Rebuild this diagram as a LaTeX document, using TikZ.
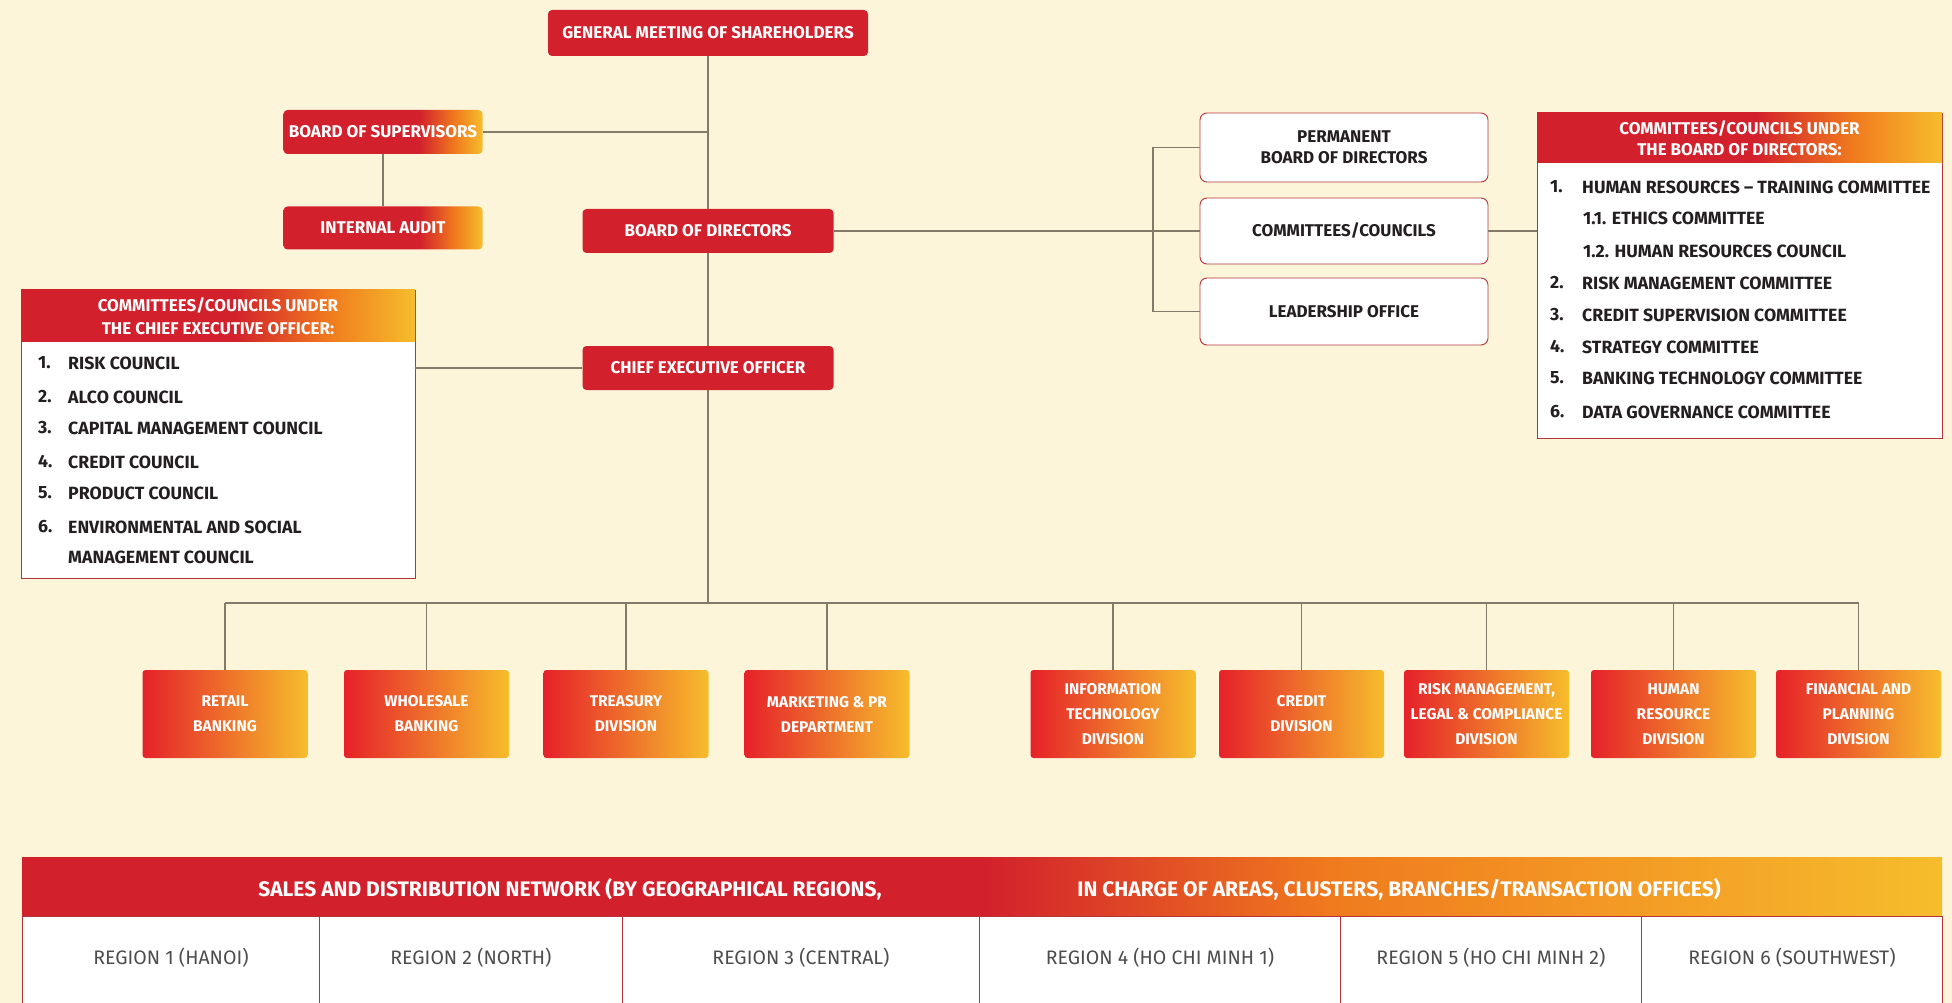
\documentclass[tikz,border=0pt]{standalone}
\usepackage{fontspec}
\setmainfont{Fira Sans}
\usetikzlibrary{calc}
\definecolor{redc}{HTML}{D2202C}
\definecolor{divred}{HTML}{E6212A}
\definecolor{orc}{HTML}{F07A1E}
\definecolor{yelc}{HTML}{F6BD2C}
\definecolor{bgc}{HTML}{FDF5DA}
\definecolor{linec}{HTML}{857A6A}
\definecolor{txtc}{HTML}{231F20}
\definecolor{greyt}{HTML}{4D4D4D}
\definecolor{bordc}{HTML}{B5343A}
\pgfdeclarehorizontalshading{bosgrad}{100bp}{color(0bp)=(redc); color(59bp)=(redc); color(68bp)=(orc); color(75bp)=(yelc); color(100bp)=(yelc)}
\pgfdeclarehorizontalshading{hdrgrad}{100bp}{color(0bp)=(redc); color(52bp)=(redc); color(64bp)=(orc); color(75bp)=(yelc); color(100bp)=(yelc)}
\pgfdeclarehorizontalshading{salesgrad}{100bp}{color(0bp)=(redc); color(50bp)=(redc); color(59bp)=(orc); color(75bp)=(yelc); color(100bp)=(yelc)}
\tikzset{
  base/.style={font=\fontsize{17}{21}\selectfont\bfseries, align=center, inner sep=0pt},
  redbox/.style={base, fill=redc, text=white, rounded corners=4pt, minimum height=44pt},
  gradbox/.style={base, shade, shading=bosgrad, text=white, rounded corners=4pt, minimum width=199pt, minimum height=44pt},
  whitebox/.style={base, fill=white, draw=bordc, line width=0.9pt, rounded corners=7pt, minimum width=288pt, text=txtc},
  divbox/.style={base, font=\fontsize{15.5}{25}\selectfont\bfseries, left color=divred, middle color=orc, right color=yelc, text=white, rounded corners=3pt, minimum width=165pt, minimum height=88pt},
  conn/.style={draw=linec, line width=1.5pt},
  item/.style={anchor=west, font=\fontsize{17.7}{20}\selectfont\bfseries, text=txtc, inner sep=0pt},
  listbox/.style={draw=bordc, line width=0.9pt, fill=white, inner sep=0pt},
  hdr/.style={base, shade, shading=hdrgrad, text=white, anchor=north},
  cell/.style={draw=bordc, line width=0.9pt, fill=white, inner sep=0pt, minimum height=87pt},
  regtxt/.style={font=\fontsize{19.5}{22}\selectfont, text=greyt, inner sep=0pt},
  saltxt/.style={font=\fontsize{21}{24}\selectfont\bfseries, text=white, inner sep=0pt},
}
\begin{document}
\begin{tikzpicture}[x=1pt,y=-1pt]
\useasboundingbox (0,0) rectangle (1952,1003);
\fill[bgc] (0,0) rectangle (1952,1003);

% top hierarchy
\node[redbox, minimum width=320pt, minimum height=46pt] (gms) at (708,33) {GENERAL MEETING OF SHAREHOLDERS};
\node[gradbox] (bos) at (383,132) {BOARD OF SUPERVISORS};
\node[gradbox, minimum height=43pt] (ia) at (383,228) {INTERNAL AUDIT};
\node[redbox, minimum width=251pt] (bod) at (708,231) {BOARD OF DIRECTORS};
\node[redbox, minimum width=251pt] (ceo) at (708,368) {CHIEF EXECUTIVE OFFICER};
\coordinate (bus) at (708,603);

% white boxes
\node[whitebox, minimum height=69pt] (perm) at (1344,147.5) {PERMANENT\\BOARD OF DIRECTORS};
\node[whitebox, minimum height=66pt] (comm) at (1344,231) {COMMITTEES/COUNCILS};
\node[whitebox, minimum height=67pt] (lead) at (1344,311.5) {LEADERSHIP OFFICE};
\coordinate (brk) at (1153,231);

% right list box
\node[listbox, minimum width=405pt, minimum height=325pt] (bodcom) at (1739.5,275.5) {};
\node[hdr, font=\fontsize{17}{21}\selectfont\bfseries, minimum width=405pt, minimum height=50pt] (bodhdr) at (bodcom.north) {COMMITTEES/COUNCILS UNDER\\THE BOARD OF DIRECTORS:};
\node[item] (rn1) at (1550,187) {1.};
\node[item] (rt1) at (1582,187) {HUMAN RESOURCES – TRAINING COMMITTEE};
\node[item] (rt11) at (1583,218) {1.1. ETHICS COMMITTEE};
\node[item] (rt12) at (1583,251) {1.2. HUMAN RESOURCES COUNCIL};
\node[item] (rn2) at (1550,283) {2.};
\node[item] (rt2) at (1582,283) {RISK MANAGEMENT COMMITTEE};
\node[item] (rn3) at (1550,315) {3.};
\node[item] (rt3) at (1582,315) {CREDIT SUPERVISION COMMITTEE};
\node[item] (rn4) at (1550,347) {4.};
\node[item] (rt4) at (1582,347) {STRATEGY COMMITTEE};
\node[item] (rn5) at (1550,378) {5.};
\node[item] (rt5) at (1582,378) {BANKING TECHNOLOGY COMMITTEE};
\node[item] (rn6) at (1550,412) {6.};
\node[item] (rt6) at (1582,412) {DATA GOVERNANCE COMMITTEE};

% left list box
\node[listbox, minimum width=394pt, minimum height=288pt] (ceocom) at (218,434) {};
\node[hdr, font=\fontsize{17}{23}\selectfont\bfseries, minimum width=394pt, minimum height=52pt] (ceohdr) at (ceocom.north) {COMMITTEES/COUNCILS UNDER\\THE CHIEF EXECUTIVE OFFICER:};
\node[item] (ln1) at (38,363) {1.};
\node[item] (lt1) at (68,363) {RISK COUNCIL};
\node[item] (ln2) at (38,397) {2.};
\node[item] (lt2) at (68,397) {ALCO COUNCIL};
\node[item] (ln3) at (38,428) {3.};
\node[item] (lt3) at (68,428) {CAPITAL MANAGEMENT COUNCIL};
\node[item] (ln4) at (38,462) {4.};
\node[item] (lt4) at (68,462) {CREDIT COUNCIL};
\node[item] (ln5) at (38,493) {5.};
\node[item] (lt5) at (68,493) {PRODUCT COUNCIL};
\node[item] (ln6) at (38,527) {6.};
\node[item] (lt6) at (68,527) {ENVIRONMENTAL AND SOCIAL};
\node[item] (lt6b) at (68,557) {MANAGEMENT COUNCIL};

% divisions
\node[divbox] (d1) at (225,714) {RETAIL\\BANKING};
\node[divbox] (d2) at (426.5,714) {WHOLESALE\\BANKING};
\node[divbox] (d3) at (626,714) {TREASURY\\DIVISION};
\node[divbox] (d4) at (827,714) {MARKETING \& PR\\DEPARTMENT};
\node[divbox] (d5) at (1113,714) {INFORMATION\\TECHNOLOGY\\DIVISION};
\node[divbox] (d6) at (1301.5,714) {CREDIT\\DIVISION};
\node[divbox] (d7) at (1486.5,714) {RISK MANAGEMENT,\\LEGAL \& COMPLIANCE\\DIVISION};
\node[divbox] (d8) at (1673.5,714) {HUMAN\\RESOURCE\\DIVISION};
\node[divbox] (d9) at (1858.5,714) {FINANCIAL AND\\PLANNING\\DIVISION};

% connectors
\draw[conn] (gms.south) -- (bod.north);
\draw[conn] (bod.south) -- (ceo.north);
\draw[conn] (ceo.south) -- (bus);
\draw[conn] (bos.east) -- (bos.east -| gms.south);
\draw[conn] (bos.south) -- (ia.north);
\draw[conn] (bod.east) -- (brk);
\draw[conn] (perm.west) -| (brk) |- (lead.west);
\draw[conn] (brk) -- (comm.west);
\draw[conn] (comm.east) -- (comm.east -| bodcom.west);
\draw[conn] (ceo.west) -- (ceo.west -| ceocom.east);
\draw[conn] (d1.north |- bus) -- (d9.north |- bus);
\foreach \i in {1,...,9} {\draw[conn] (d\i.north |- bus) -- (d\i.north);}

% sales band
\node[shade, shading=salesgrad, inner sep=0pt, minimum width=1920pt, minimum height=59pt, anchor=north west] (salesh) at (22,857) {};
\node[saltxt] (s1) at (570,889) {SALES AND DISTRIBUTION NETWORK (BY GEOGRAPHICAL REGIONS,};
\node[saltxt] (s2) at (1399,889) {IN CHARGE OF AREAS, CLUSTERS, BRANCHES/TRANSACTION OFFICES)};
\node[cell, minimum width=297pt, anchor=north west] (r1) at (22,916) {};
\node[cell, minimum width=303pt, anchor=north west] (r2) at (319,916) {};
\node[cell, minimum width=357pt, anchor=north west] (r3) at (622,916) {};
\node[cell, minimum width=361pt, anchor=north west] (r4) at (979,916) {};
\node[cell, minimum width=301pt, anchor=north west] (r5) at (1340,916) {};
\node[cell, minimum width=301pt, anchor=north west] (r6) at (1641,916) {};
\node[regtxt] at ($(r1.center)+(0,-2)$) {REGION 1 (HANOI)};
\node[regtxt] at ($(r2.center)+(0,-2)$) {REGION 2 (NORTH)};
\node[regtxt] at ($(r3.center)+(0,-2)$) {REGION 3 (CENTRAL)};
\node[regtxt] at ($(r4.center)+(0,-2)$) {REGION 4 (HO CHI MINH 1)};
\node[regtxt] at ($(r5.center)+(0,-2)$) {REGION 5 (HO CHI MINH 2)};
\node[regtxt] at ($(r6.center)+(0,-2)$) {REGION 6 (SOUTHWEST)};
\end{tikzpicture}
\end{document}
